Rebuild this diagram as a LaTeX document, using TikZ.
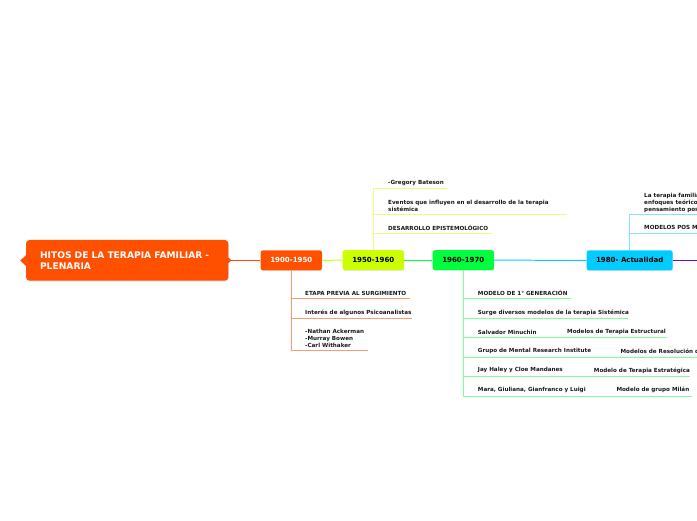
\documentclass[tikz,border=0pt]{standalone}
\usepackage{fontspec}
\setmainfont{DejaVu Sans}
\usepackage{xcolor}
\usepackage{tikz}
\usetikzlibrary{calc, positioning, shadows}
\definecolor{hitorange}{HTML}{FF5000}
\definecolor{hitlime}{HTML}{CCFF00}
\definecolor{hitgreen}{HTML}{00FF3C}
\definecolor{hitcyan}{HTML}{00CCFF}
\definecolor{hitpurple}{HTML}{6A00FF}
\definecolor{softorange}{HTML}{FF9A6E}
\definecolor{softlime}{HTML}{E5FF80}
\definecolor{softgreen}{HTML}{80FF99}
\definecolor{softcyan}{HTML}{80E5FF}
\tikzset{
    era/.style={rectangle, rounded corners=2pt, minimum width=1.84cm, minimum height=0.6cm,
        inner sep=0pt, font=\fontsize{6}{7}\selectfont\bfseries,
        drop shadow={opacity=0.18, shadow xshift=0.4pt, shadow yshift=-0.8pt}},
    titlebox/.style={rectangle, rounded corners=3pt, fill=hitorange, text=white, align=left,
        text width=5.23cm, inner xsep=0.42cm, inner ysep=0pt, minimum height=1.22cm,
        font=\fontsize{7.8}{9.1}\selectfont\bfseries,
        drop shadow={opacity=0.18, shadow xshift=0.4pt, shadow yshift=-0.8pt}},
    item/.style={anchor=west, inner sep=0pt, align=left, text=black!90,
        font=\fontsize{4.8}{5.95}\selectfont\bfseries},
    trunk/.style={line width=0.85pt},
    twig/.style={line width=0.55pt},
}
\begin{document}
\begin{tikzpicture}[x=0.03cm, y=-0.03cm]
        \useasboundingbox (0,0) rectangle (697,520);
        \clip (0,0) rectangle (697,520);

        \node[titlebox] (hitos) at (127.2,260.3) {HITOS DE LA TERAPIA FAMILIAR -\\PLENARIA};
        \fill[hitorange] ($(hitos.west)+(0,-5)$) -- ($(hitos.west)+(-5.5,0.3)$) -- ($(hitos.west)+(0,5.5)$) -- cycle;
        \fill[hitorange] ($(hitos.east)+(-0.5,-3)$) -- ($(hitos.east)+(3,0)$) -- ($(hitos.east)+(-0.5,3)$) -- cycle;

        \node[era, fill=hitorange, text=white] (e1900) at (291.3,260.3) {1900-1950};
        \node[era, fill=hitlime, text=black] (e1950) at (373.3,260.2) {1950-1960};
        \node[era, fill=hitgreen, text=black] (e1960) at (463.3,260.2) {1960-1970};
        \node[era, fill=hitcyan, text=black, minimum width=2.58cm] (e1980) at (629.7,260.3) {1980- Actualidad};
        \coordinate (enext) at (705,260.3);

        \draw[trunk, hitorange] (hitos.east) -- (e1900.west);
        \draw[trunk, hitlime] (e1900.east) -- (e1950.west);
        \draw[trunk, hitgreen] (e1950.east) -- (e1960.west);
        \draw[trunk, hitcyan] (e1960.east) -- (e1980.west);
        \draw[trunk, hitpurple] (e1980.east) -- (enext);

        \node[item] (etapa) at (305,293.3) {ETAPA PREVIA AL SURGIMIENTO};
        \node[item] (interes) at (305,312.6) {Interés de algunos Psicoanalistas};
        \node[item] (autores) at (305,338.4) {-Nathan Ackerman\\-Murray Bowen\\-Carl Withaker};
        \coordinate (etapa end) at (410,298.5);
        \coordinate (interes end) at (412,318.4);
        \coordinate (autores end) at (368,350.8);
        \draw[twig, softorange] (e1900.south) |- (etapa end);
        \draw[twig, softorange] (e1900.south) |- (interes end);
        \draw[twig, softorange] (e1900.south) |- (autores end);

        \node[item] (bateson) at (388,183.3) {-Gregory Bateson};
        \node[item] (eventos) at (388,205.7) {Eventos que influyen en el desarrollo de la terapia\\sistémica};
        \node[item] (episte) at (388,227.8) {DESARROLLO EPISTEMOLÓGICO};
        \coordinate (bateson end) at (446.7,188.4);
        \coordinate (eventos end) at (567,214);
        \coordinate (episte end) at (492.3,233.4);
        \draw[twig, softlime] (e1950.north) |- (bateson end);
        \draw[twig, softlime] (e1950.north) |- (eventos end);
        \draw[twig, softlime] (e1950.north) |- (episte end);

        \node[item] (modelo) at (477.7,293.3) {MODELO DE 1° GENERACIÓN};
        \node[item] (surge) at (477.7,312.4) {Surge diversos modelos de la terapia Sistémica};
        \node[item] (minuchin) at (477.7,332) {Salvador Minuchin};
        \node[item] (mri) at (477.7,351) {Grupo de Mental Research Institute};
        \node[item] (haley) at (477.7,370.4) {Jay Haley y Cloe Mandanes};
        \node[item] (milan) at (477.7,390.2) {Mara, Giuliana, Gianfranco y Luigi};
        \node[item] (estructural) at (567,332) {Modelos de Terapia Estructural};
        \node[item] (resolucion) at (620.3,351) {Modelos de Resolución de Problemas};
        \node[item] (estrategica) at (593.7,370.4) {Modelo de Terapia Estratégica};
        \node[item] (grupo) at (616.3,390.2) {Modelo de grupo Milán};
        \coordinate (modelo end) at (570.7,298.4);
        \coordinate (surge end) at (628.3,318.4);
        \coordinate (estructural end) at (667.3,337.4);
        \coordinate (resolucion end) at (705,357.2);
        \coordinate (estrategica end) at (690,376.6);
        \coordinate (grupo end) at (691.7,396.2);
        \draw[twig, softgreen] (e1960.south) |- (modelo end);
        \draw[twig, softgreen] (e1960.south) |- (surge end);
        \draw[twig, softgreen] (e1960.south) |- (estructural end);
        \draw[twig, softgreen] (e1960.south) |- (resolucion end);
        \draw[twig, softgreen] (e1960.south) |- (estrategica end);
        \draw[twig, softgreen] (e1960.south) |- (grupo end);

        \node[item] (terapia) at (644,203.2) {La terapia familiar se nutre de\\enfoques teóricos diversos y del\\pensamiento posmoderno};
        \node[item] (posmod) at (644,227.8) {MODELOS POS MODERNOS};
        \coordinate (terapia end) at (705,214.4);
        \coordinate (posmod end) at (705,233.4);
        \draw[twig, softcyan] (e1980.north) |- (terapia end);
        \draw[twig, softcyan] (e1980.north) |- (posmod end);
    \end{tikzpicture}
\end{document}
